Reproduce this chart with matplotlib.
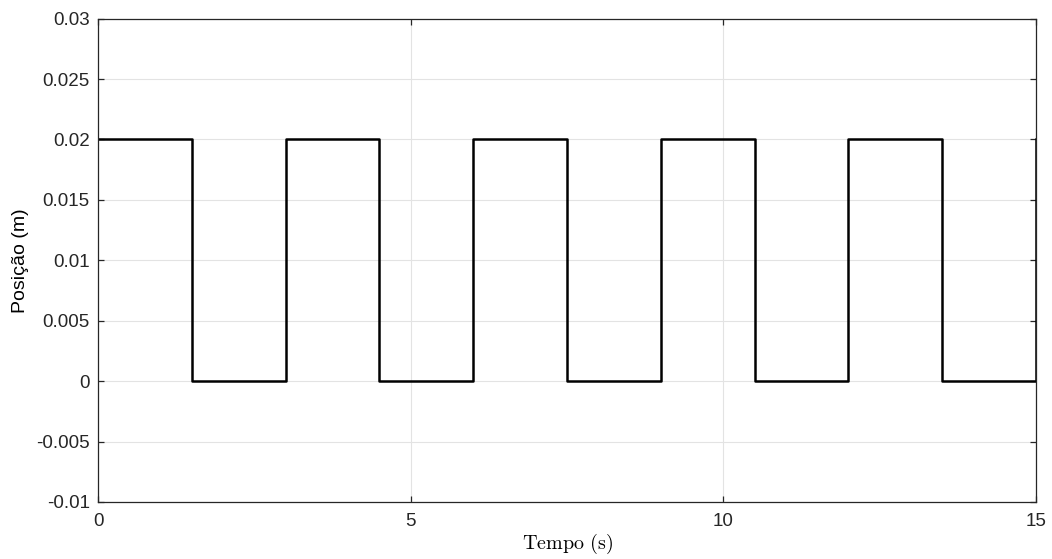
import matplotlib
matplotlib.use("Agg")
import matplotlib.pyplot as plt

plt.rcParams['font.family'] = ['Liberation Sans', 'DejaVu Sans']
plt.rcParams['mathtext.fontset'] = 'cm'

# switching instants (s) and level held from each instant (m)
tempo = [0, 1.5, 3, 4.5, 6, 7.5, 9, 10.5, 12, 13.5, 15]
posicao = [0.02, 0, 0.02, 0, 0.02, 0, 0.02, 0, 0.02, 0, 0.02]

xticks = [0, 5, 10, 15]
yticks = [-0.01, -0.005, 0, 0.005, 0.01, 0.015, 0.02, 0.025, 0.03]
ylabels = ['-0.01', '-0.005', '0', '0.005', '0.01', '0.015', '0.02', '0.025', '0.03']

fig = plt.figure(figsize=(10.52, 5.59), dpi=100)
ax = fig.add_axes([0.0932, 0.102, 0.8916, 0.8646])

ax.plot(tempo, posicao, drawstyle='steps-post', color='black', lw=1.8)

ax.set_xlim(0, 15)
ax.set_ylim(-0.01, 0.03)
ax.set_xticks(xticks)
ax.set_xticklabels([str(v) for v in xticks])
ax.set_yticks(yticks)
ax.set_yticklabels(ylabels)

ax.grid(True, color='#e3e3e3', lw=0.8)
ax.set_axisbelow(True)
for s in ax.spines.values():
    s.set_color('#262626')
    s.set_linewidth(0.9)
ax.tick_params(direction='in', length=4, width=0.9, colors='#262626',
               labelsize=13.5, top=True, right=True)
ax.tick_params(axis='x', pad=8)
ax.tick_params(axis='y', pad=6)

ax.set_xlabel(r'$\mathrm{Tempo\ (s)}$', fontsize=14.5, labelpad=1)
ax.set_ylabel('Posição (m)', fontsize=14, labelpad=5)

fig.savefig('out.png', dpi=100)
